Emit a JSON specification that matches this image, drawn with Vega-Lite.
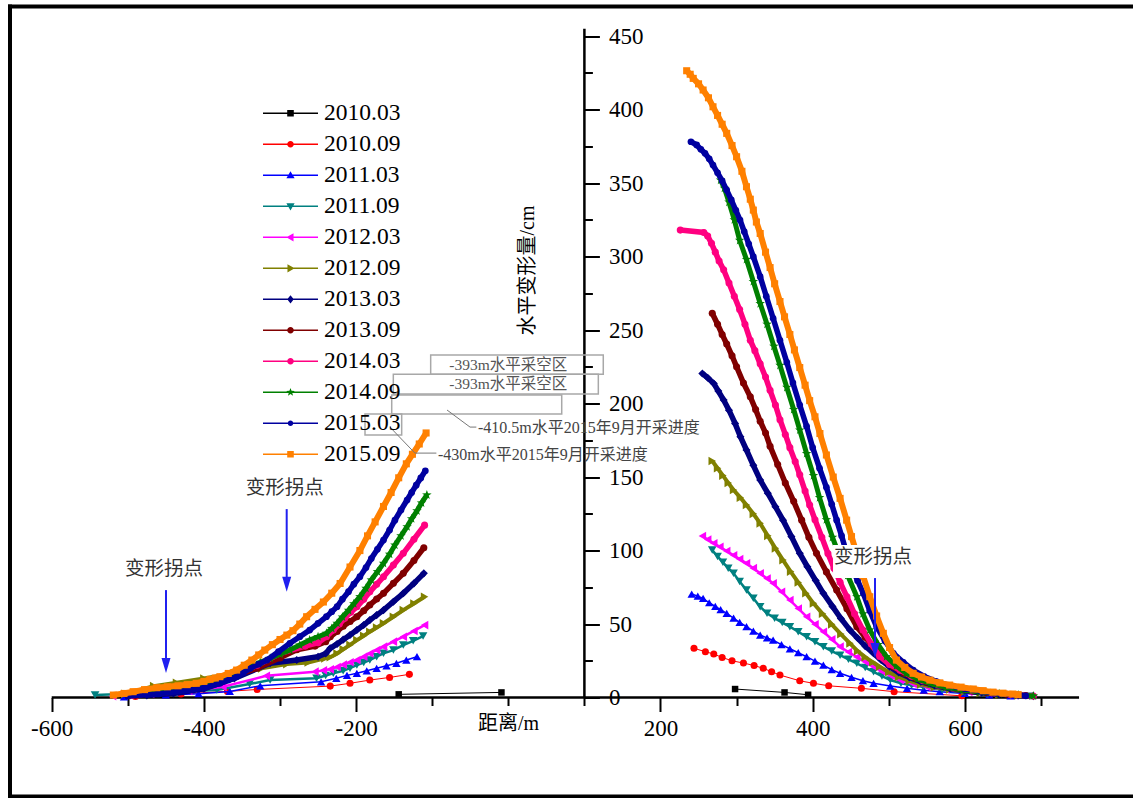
{
"$schema": "https://vega.github.io/schema/vega-lite/v6.json",
"width": 1123, "height": 790,
"autosize": {"type": "none"},
"padding": {"left": 10, "top": 6.5, "right": 0, "bottom": 1.5},
"background": "white",
"config": {"view": {"stroke": null}, "font": "Liberation Serif, Noto Sans CJK SC", "text": {"font": "Liberation Serif, Noto Sans CJK SC"}},
"datasets": {
"frame": [{"x":-654.8,"x2":-654.8,"y":-67.3,"y2":470.1},{"x":-654.8,"x2":825,"y":470.1,"y2":470.1},{"x":-654.8,"x2":825,"y":-67.3,"y2":-67.3}],
"axl": [{"x":-600,"x2":750,"y":0,"y2":0},{"x":100,"x2":100,"y":0,"y2":455}],
"boxes": [{"x":-102,"x2":124.8,"y":233,"y2":219.9},{"x":-151.1,"x2":118.3,"y":219.9,"y2":206.5},{"x":-153.2,"x2":70.2,"y":205.8,"y2":192.9},{"x":-188.3,"x2":-140.1,"y":192.9,"y2":178.6}],
"wbox": [{"x":426.7,"x2":534.4,"y":103.7,"y2":81.3}],
"lead": [{"g":"C","x":-80.5,"y":195.6},{"g":"C","x":-50.3,"y":184},{"g":"C","x":-42,"y":184},{"g":"D","x":-155.5,"y":184},{"g":"D","x":-122.7,"y":166.3},{"g":"D","x":-94.5,"y":166.3}],
"tc": [{"x":0,"y":226.2,"t":"-393m水平采空区"},{"x":0,"y":213.3,"t":"-393m水平采空区"}],
"tl": [{"x":-39.8,"y":183.2,"t":"-410.5m水平2015年9月开采进度"},{"x":-92.4,"y":165,"t":"-430m水平2015年9月开采进度"}],
"tk": [{"x":-452.4,"y":87.4,"t":"变形拐点"},{"x":-293.8,"y":142.5,"t":"变形拐点"},{"x":479.2,"y":95.8,"t":"变形拐点"}],
"arr": [{"x":-449.8,"y":73.1,"y2":25},{"x":-291.2,"y":128.2,"y2":80},{"x":481.9,"y":81.3,"y2":35}],
"ah": [{"x":-449.8,"y":21.8},{"x":-291.2,"y":77},{"x":481.9,"y":32}],
"pts": [
{"s":"2010.03","p":"L","x":-144,"y":2.2},{"s":"2010.03","p":"L","x":-9,"y":3.5},{"s":"2010.03","p":"R","x":298,"y":5.8},{"s":"2010.03","p":"R","x":363,"y":3.5},{"s":"2010.03","p":"R","x":394,"y":1.9},
{"s":"2010.09","p":"L","x":-490,"y":0.8},{"s":"2010.09","p":"L","x":-430,"y":2.5},{"s":"2010.09","p":"L","x":-369,"y":4.2},{"s":"2010.09","p":"L","x":-330,"y":5.5},{"s":"2010.09","p":"L","x":-234,"y":7.8},{"s":"2010.09","p":"L","x":-208,"y":9.7},{"s":"2010.09","p":"L","x":-182,"y":11.9},{"s":"2010.09","p":"L","x":-156,"y":13.7},{"s":"2010.09","p":"L","x":-130,"y":15.8},
{"s":"2010.09","p":"R","x":244,"y":33.5},{"s":"2010.09","p":"R","x":259,"y":31.2},{"s":"2010.09","p":"R","x":270,"y":29.6},{"s":"2010.09","p":"R","x":281,"y":27.3},{"s":"2010.09","p":"R","x":294,"y":25},{"s":"2010.09","p":"R","x":309,"y":23.5},{"s":"2010.09","p":"R","x":323,"y":21.8},{"s":"2010.09","p":"R","x":335,"y":19.9},{"s":"2010.09","p":"R","x":346,"y":17.6},{"s":"2010.09","p":"R","x":357,"y":15.3},{"s":"2010.09","p":"R","x":383,"y":11.4},{"s":"2010.09","p":"R","x":401,"y":9.7},{"s":"2010.09","p":"R","x":421,"y":8},{"s":"2010.09","p":"R","x":464,"y":6.3},{"s":"2010.09","p":"R","x":507,"y":4},{"s":"2010.09","p":"R","x":596,"y":1.2},
{"s":"2011.03","p":"L","x":-505,"y":0.5},{"s":"2011.03","p":"L","x":-450,"y":1.8},{"s":"2011.03","p":"L","x":-407,"y":2.6},{"s":"2011.03","p":"L","x":-366,"y":4.2},{"s":"2011.03","p":"L","x":-326,"y":8},{"s":"2011.03","p":"L","x":-246,"y":10.7},{"s":"2011.03","p":"L","x":-226,"y":13.1},{"s":"2011.03","p":"L","x":-212,"y":15.1},{"s":"2011.03","p":"L","x":-199,"y":16.5},{"s":"2011.03","p":"L","x":-186,"y":18.2},{"s":"2011.03","p":"L","x":-173,"y":19.9},{"s":"2011.03","p":"L","x":-160,"y":21.6},{"s":"2011.03","p":"L","x":-147,"y":23.3},{"s":"2011.03","p":"L","x":-134,"y":25.5},{"s":"2011.03","p":"L","x":-120,"y":27.8},
{"s":"2011.03","p":"R","x":241,"y":70.4},{"s":"2011.03","p":"R","x":249,"y":69},{"s":"2011.03","p":"R","x":256,"y":67.5},{"s":"2011.03","p":"R","x":264,"y":64.5},{"s":"2011.03","p":"R","x":272,"y":62},{"s":"2011.03","p":"R","x":279,"y":59.8},{"s":"2011.03","p":"R","x":287,"y":57.3},{"s":"2011.03","p":"R","x":296,"y":54},{"s":"2011.03","p":"R","x":304,"y":51.2},{"s":"2011.03","p":"R","x":313,"y":48.2},{"s":"2011.03","p":"R","x":322,"y":45.2},{"s":"2011.03","p":"R","x":331,"y":42.5},{"s":"2011.03","p":"R","x":340,"y":40.6},{"s":"2011.03","p":"R","x":348,"y":39},{"s":"2011.03","p":"R","x":359,"y":36},{"s":"2011.03","p":"R","x":370,"y":33.2},{"s":"2011.03","p":"R","x":381,"y":30.5},{"s":"2011.03","p":"R","x":392,"y":27.8},{"s":"2011.03","p":"R","x":403,"y":24.8},{"s":"2011.03","p":"R","x":414,"y":22},{"s":"2011.03","p":"R","x":425,"y":19},{"s":"2011.03","p":"R","x":436,"y":16.5},{"s":"2011.03","p":"R","x":451,"y":13.8},{"s":"2011.03","p":"R","x":466,"y":11.5},{"s":"2011.03","p":"R","x":480,"y":9.7},{"s":"2011.03","p":"R","x":502,"y":7.8},{"s":"2011.03","p":"R","x":524,"y":6.3},{"s":"2011.03","p":"R","x":546,"y":5},{"s":"2011.03","p":"R","x":567,"y":4},{"s":"2011.03","p":"R","x":600,"y":2.8},{"s":"2011.03","p":"R","x":632,"y":1.8},{"s":"2011.03","p":"R","x":660,"y":1.2},
{"s":"2011.09","p":"L","x":-543,"y":1.7},{"s":"2011.09","p":"L","x":-480,"y":3},{"s":"2011.09","p":"L","x":-430,"y":4.2},{"s":"2011.09","p":"L","x":-383,"y":5.1},{"s":"2011.09","p":"L","x":-340,"y":9.2},{"s":"2011.09","p":"L","x":-313,"y":12},{"s":"2011.09","p":"L","x":-252,"y":13.1},{"s":"2011.09","p":"L","x":-240,"y":15},{"s":"2011.09","p":"L","x":-230,"y":16.5},{"s":"2011.09","p":"L","x":-217,"y":18.2},{"s":"2011.09","p":"L","x":-208,"y":20},{"s":"2011.09","p":"L","x":-199,"y":22.1},{"s":"2011.09","p":"L","x":-190,"y":23.8},{"s":"2011.09","p":"L","x":-182,"y":25.5},{"s":"2011.09","p":"L","x":-173,"y":27.8},{"s":"2011.09","p":"L","x":-164,"y":30.1},{"s":"2011.09","p":"L","x":-151,"y":32.3},{"s":"2011.09","p":"L","x":-138,"y":35.7},{"s":"2011.09","p":"L","x":-125,"y":38.6},{"s":"2011.09","p":"L","x":-112,"y":41.8},
{"s":"2011.09","p":"R","x":268,"y":100.3},{"s":"2011.09","p":"R","x":275,"y":96},{"s":"2011.09","p":"R","x":282,"y":92},{"s":"2011.09","p":"R","x":289,"y":88},{"s":"2011.09","p":"R","x":296,"y":84.5},{"s":"2011.09","p":"R","x":304,"y":79},{"s":"2011.09","p":"R","x":313,"y":73.1},{"s":"2011.09","p":"R","x":322,"y":67.5},{"s":"2011.09","p":"R","x":331,"y":61.8},{"s":"2011.09","p":"R","x":340,"y":57.3},{"s":"2011.09","p":"R","x":350,"y":54},{"s":"2011.09","p":"R","x":360,"y":51},{"s":"2011.09","p":"R","x":370,"y":48.2},{"s":"2011.09","p":"R","x":381,"y":44.8},{"s":"2011.09","p":"R","x":392,"y":41.3},{"s":"2011.09","p":"R","x":403,"y":38},{"s":"2011.09","p":"R","x":414,"y":34.6},{"s":"2011.09","p":"R","x":425,"y":31.6},{"s":"2011.09","p":"R","x":436,"y":28.8},{"s":"2011.09","p":"R","x":447,"y":26},{"s":"2011.09","p":"R","x":458,"y":23.3},{"s":"2011.09","p":"R","x":469,"y":20.4},{"s":"2011.09","p":"R","x":480,"y":17.5},{"s":"2011.09","p":"R","x":491,"y":14.6},{"s":"2011.09","p":"R","x":502,"y":11.9},{"s":"2011.09","p":"R","x":516,"y":9.8},{"s":"2011.09","p":"R","x":530,"y":8.4},{"s":"2011.09","p":"R","x":545,"y":7.3},{"s":"2011.09","p":"R","x":570,"y":5.3},{"s":"2011.09","p":"R","x":600,"y":3.5},{"s":"2011.09","p":"R","x":630,"y":2.3},{"s":"2011.09","p":"R","x":660,"y":1.5},{"s":"2011.09","p":"R","x":685,"y":0.9},
{"s":"2012.03","p":"L","x":-520,"y":1},{"s":"2012.03","p":"L","x":-470,"y":2.5},{"s":"2012.03","p":"L","x":-420,"y":4.5},{"s":"2012.03","p":"L","x":-375,"y":7.3},{"s":"2012.03","p":"L","x":-318,"y":14.8},{"s":"2012.03","p":"L","x":-254,"y":17.6},{"s":"2012.03","p":"L","x":-243,"y":18.5},{"s":"2012.03","p":"L","x":-234,"y":19.2},{"s":"2012.03","p":"L","x":-225,"y":20.8},{"s":"2012.03","p":"L","x":-217,"y":22.4},{"s":"2012.03","p":"L","x":-208,"y":24},{"s":"2012.03","p":"L","x":-199,"y":25.5},{"s":"2012.03","p":"L","x":-190,"y":27.8},{"s":"2012.03","p":"L","x":-182,"y":30},{"s":"2012.03","p":"L","x":-173,"y":32.3},{"s":"2012.03","p":"L","x":-164,"y":34.6},{"s":"2012.03","p":"L","x":-151,"y":38},{"s":"2012.03","p":"L","x":-138,"y":41.4},{"s":"2012.03","p":"L","x":-124,"y":45.3},{"s":"2012.03","p":"L","x":-110,"y":49.3},
{"s":"2012.03","p":"R","x":255,"y":109.9},{"s":"2012.03","p":"R","x":262,"y":107.5},{"s":"2012.03","p":"R","x":270,"y":105},{"s":"2012.03","p":"R","x":278,"y":102.6},{"s":"2012.03","p":"R","x":287,"y":99.7},{"s":"2012.03","p":"R","x":296,"y":96.8},{"s":"2012.03","p":"R","x":304,"y":94.2},{"s":"2012.03","p":"R","x":313,"y":91.3},{"s":"2012.03","p":"R","x":322,"y":88},{"s":"2012.03","p":"R","x":331,"y":84.5},{"s":"2012.03","p":"R","x":340,"y":81},{"s":"2012.03","p":"R","x":348,"y":77.7},{"s":"2012.03","p":"R","x":359,"y":72},{"s":"2012.03","p":"R","x":370,"y":66.3},{"s":"2012.03","p":"R","x":381,"y":60.6},{"s":"2012.03","p":"R","x":392,"y":55},{"s":"2012.03","p":"R","x":403,"y":49.9},{"s":"2012.03","p":"R","x":414,"y":44.8},{"s":"2012.03","p":"R","x":425,"y":39.7},{"s":"2012.03","p":"R","x":436,"y":34.6},{"s":"2012.03","p":"R","x":447,"y":31},{"s":"2012.03","p":"R","x":458,"y":27.6},{"s":"2012.03","p":"R","x":469,"y":24.3},{"s":"2012.03","p":"R","x":480,"y":21},{"s":"2012.03","p":"R","x":491,"y":17.8},{"s":"2012.03","p":"R","x":503,"y":14.8},{"s":"2012.03","p":"R","x":515,"y":11.9},{"s":"2012.03","p":"R","x":532,"y":9.3},{"s":"2012.03","p":"R","x":550,"y":7.3},{"s":"2012.03","p":"R","x":575,"y":5.5},{"s":"2012.03","p":"R","x":605,"y":3.8},{"s":"2012.03","p":"R","x":637,"y":2.5},{"s":"2012.03","p":"R","x":665,"y":1.6},
{"s":"2012.09","p":"L","x":-504,"y":2.5},{"s":"2012.09","p":"L","x":-466,"y":7.8},{"s":"2012.09","p":"L","x":-436,"y":10.1},{"s":"2012.09","p":"L","x":-400,"y":13},{"s":"2012.09","p":"L","x":-360,"y":16.5},{"s":"2012.09","p":"L","x":-324,"y":19.9},{"s":"2012.09","p":"L","x":-291,"y":22.8},{"s":"2012.09","p":"L","x":-263,"y":23.9},{"s":"2012.09","p":"L","x":-241,"y":26.7},{"s":"2012.09","p":"L","x":-234,"y":27.5},{"s":"2012.09","p":"L","x":-225,"y":30},{"s":"2012.09","p":"L","x":-217,"y":32.8},{"s":"2012.09","p":"L","x":-208,"y":35.8},{"s":"2012.09","p":"L","x":-199,"y":39.1},{"s":"2012.09","p":"L","x":-190,"y":42},{"s":"2012.09","p":"L","x":-182,"y":44.8},{"s":"2012.09","p":"L","x":-173,"y":47.6},{"s":"2012.09","p":"L","x":-164,"y":50.5},{"s":"2012.09","p":"L","x":-151,"y":55},{"s":"2012.09","p":"L","x":-138,"y":59.5},{"s":"2012.09","p":"L","x":-124,"y":64},{"s":"2012.09","p":"L","x":-110,"y":68.6},
{"s":"2012.09","p":"R","x":268,"y":160.9},{"s":"2012.09","p":"R","x":275,"y":156},{"s":"2012.09","p":"R","x":282,"y":151},{"s":"2012.09","p":"R","x":289,"y":146},{"s":"2012.09","p":"R","x":296,"y":141.2},{"s":"2012.09","p":"R","x":305,"y":136},{"s":"2012.09","p":"R","x":313,"y":131},{"s":"2012.09","p":"R","x":322,"y":125},{"s":"2012.09","p":"R","x":331,"y":118.5},{"s":"2012.09","p":"R","x":341,"y":110},{"s":"2012.09","p":"R","x":351,"y":101.5},{"s":"2012.09","p":"R","x":361,"y":93.5},{"s":"2012.09","p":"R","x":371,"y":85.7},{"s":"2012.09","p":"R","x":381,"y":78.3},{"s":"2012.09","p":"R","x":391,"y":71},{"s":"2012.09","p":"R","x":401,"y":64.1},{"s":"2012.09","p":"R","x":413,"y":57},{"s":"2012.09","p":"R","x":425,"y":49.8},{"s":"2012.09","p":"R","x":437,"y":43.2},{"s":"2012.09","p":"R","x":449,"y":36.9},{"s":"2012.09","p":"R","x":459,"y":31.6},{"s":"2012.09","p":"R","x":469,"y":27.5},{"s":"2012.09","p":"R","x":479,"y":24},{"s":"2012.09","p":"R","x":488,"y":21},{"s":"2012.09","p":"R","x":500,"y":17.3},{"s":"2012.09","p":"R","x":513,"y":14},{"s":"2012.09","p":"R","x":527,"y":11.3},{"s":"2012.09","p":"R","x":542,"y":9},{"s":"2012.09","p":"R","x":560,"y":7},{"s":"2012.09","p":"R","x":580,"y":5.5},{"s":"2012.09","p":"R","x":600,"y":4.2},{"s":"2012.09","p":"R","x":620,"y":3.2},{"s":"2012.09","p":"R","x":645,"y":2.2},{"s":"2012.09","p":"R","x":670,"y":1.5},
{"s":"2013.03","p":"L","x":-475,"y":1.5},{"s":"2013.03","p":"L","x":-440,"y":2.8},{"s":"2013.03","p":"L","x":-400,"y":6},{"s":"2013.03","p":"L","x":-360,"y":13},{"s":"2013.03","p":"L","x":-313,"y":23.3},{"s":"2013.03","p":"L","x":-278,"y":25.5},{"s":"2013.03","p":"L","x":-250,"y":27.8},{"s":"2013.03","p":"L","x":-240,"y":30},{"s":"2013.03","p":"L","x":-234,"y":33.5},{"s":"2013.03","p":"L","x":-225,"y":36.5},{"s":"2013.03","p":"L","x":-217,"y":39.4},{"s":"2013.03","p":"L","x":-208,"y":42.6},{"s":"2013.03","p":"L","x":-199,"y":45.9},{"s":"2013.03","p":"L","x":-190,"y":49.3},{"s":"2013.03","p":"L","x":-182,"y":52.7},{"s":"2013.03","p":"L","x":-173,"y":56.1},{"s":"2013.03","p":"L","x":-164,"y":59.5},{"s":"2013.03","p":"L","x":-151,"y":65.2},{"s":"2013.03","p":"L","x":-138,"y":70.9},{"s":"2013.03","p":"L","x":-124,"y":77.7},{"s":"2013.03","p":"L","x":-111,"y":84.5},
{"s":"2013.03","p":"R","x":255,"y":220.5},{"s":"2013.03","p":"R","x":262,"y":217.5},{"s":"2013.03","p":"R","x":270,"y":213.7},{"s":"2013.03","p":"R","x":276,"y":208.5},{"s":"2013.03","p":"R","x":283,"y":202.4},{"s":"2013.03","p":"R","x":290,"y":195.5},{"s":"2013.03","p":"R","x":298,"y":186.5},{"s":"2013.03","p":"R","x":305,"y":177.5},{"s":"2013.03","p":"R","x":313,"y":168.4},{"s":"2013.03","p":"R","x":322,"y":158},{"s":"2013.03","p":"R","x":331,"y":148},{"s":"2013.03","p":"R","x":341,"y":139},{"s":"2013.03","p":"R","x":351,"y":129.8},{"s":"2013.03","p":"R","x":361,"y":120.7},{"s":"2013.03","p":"R","x":372,"y":109.5},{"s":"2013.03","p":"R","x":383,"y":98.1},{"s":"2013.03","p":"R","x":393,"y":89},{"s":"2013.03","p":"R","x":404,"y":79.6},{"s":"2013.03","p":"R","x":414,"y":70.9},{"s":"2013.03","p":"R","x":426,"y":62},{"s":"2013.03","p":"R","x":437,"y":53.8},{"s":"2013.03","p":"R","x":449,"y":45.9},{"s":"2013.03","p":"R","x":459,"y":40.5},{"s":"2013.03","p":"R","x":469,"y":35},{"s":"2013.03","p":"R","x":480,"y":30.1},{"s":"2013.03","p":"R","x":490,"y":25.5},{"s":"2013.03","p":"R","x":501,"y":21},{"s":"2013.03","p":"R","x":513,"y":17},{"s":"2013.03","p":"R","x":527,"y":13.6},{"s":"2013.03","p":"R","x":542,"y":10.8},{"s":"2013.03","p":"R","x":560,"y":8.2},{"s":"2013.03","p":"R","x":580,"y":6.2},{"s":"2013.03","p":"R","x":600,"y":4.6},{"s":"2013.03","p":"R","x":622,"y":3.3},{"s":"2013.03","p":"R","x":645,"y":2.3},{"s":"2013.03","p":"R","x":670,"y":1.5},{"s":"2013.03","p":"R","x":690,"y":1},
{"s":"2013.09","p":"L","x":-490,"y":1.5},{"s":"2013.09","p":"L","x":-450,"y":3.5},{"s":"2013.09","p":"L","x":-410,"y":7},{"s":"2013.09","p":"L","x":-370,"y":13},{"s":"2013.09","p":"L","x":-330,"y":20},{"s":"2013.09","p":"L","x":-300,"y":27},{"s":"2013.09","p":"L","x":-278,"y":32.5},{"s":"2013.09","p":"L","x":-254,"y":35},{"s":"2013.09","p":"L","x":-240,"y":38},{"s":"2013.09","p":"L","x":-234,"y":41.4},{"s":"2013.09","p":"L","x":-225,"y":45},{"s":"2013.09","p":"L","x":-217,"y":48.5},{"s":"2013.09","p":"L","x":-208,"y":51.7},{"s":"2013.09","p":"L","x":-199,"y":55},{"s":"2013.09","p":"L","x":-190,"y":59},{"s":"2013.09","p":"L","x":-182,"y":63},{"s":"2013.09","p":"L","x":-173,"y":67},{"s":"2013.09","p":"L","x":-164,"y":70.9},{"s":"2013.09","p":"L","x":-151,"y":77.7},{"s":"2013.09","p":"L","x":-138,"y":84.5},{"s":"2013.09","p":"L","x":-124,"y":93.2},{"s":"2013.09","p":"L","x":-111,"y":101.9},
{"s":"2013.09","p":"R","x":268,"y":261.4},{"s":"2013.09","p":"R","x":275,"y":254},{"s":"2013.09","p":"R","x":281,"y":247},{"s":"2013.09","p":"R","x":287,"y":240.5},{"s":"2013.09","p":"R","x":294,"y":232.5},{"s":"2013.09","p":"R","x":300,"y":225},{"s":"2013.09","p":"R","x":309,"y":214},{"s":"2013.09","p":"R","x":318,"y":204.6},{"s":"2013.09","p":"R","x":325,"y":196},{"s":"2013.09","p":"R","x":331,"y":188},{"s":"2013.09","p":"R","x":338,"y":180},{"s":"2013.09","p":"R","x":344,"y":171},{"s":"2013.09","p":"R","x":354,"y":158.5},{"s":"2013.09","p":"R","x":364,"y":146},{"s":"2013.09","p":"R","x":375,"y":133.5},{"s":"2013.09","p":"R","x":385.5,"y":120.7},{"s":"2013.09","p":"R","x":395,"y":109},{"s":"2013.09","p":"R","x":405,"y":98.1},{"s":"2013.09","p":"R","x":418,"y":85.5},{"s":"2013.09","p":"R","x":431.5,"y":73.1},{"s":"2013.09","p":"R","x":445,"y":60.5},{"s":"2013.09","p":"R","x":458,"y":48.2},{"s":"2013.09","p":"R","x":469,"y":41},{"s":"2013.09","p":"R","x":479.6,"y":34.6},{"s":"2013.09","p":"R","x":492,"y":27.5},{"s":"2013.09","p":"R","x":506,"y":21},{"s":"2013.09","p":"R","x":520,"y":16.5},{"s":"2013.09","p":"R","x":535,"y":13},{"s":"2013.09","p":"R","x":550,"y":10.5},{"s":"2013.09","p":"R","x":570,"y":8},{"s":"2013.09","p":"R","x":590,"y":6},{"s":"2013.09","p":"R","x":610,"y":4.5},{"s":"2013.09","p":"R","x":630,"y":3.3},{"s":"2013.09","p":"R","x":655,"y":2.2},{"s":"2013.09","p":"R","x":680,"y":1.4},
{"s":"2014.03","p":"L","x":-495,"y":1.5},{"s":"2014.03","p":"L","x":-455,"y":3.5},{"s":"2014.03","p":"L","x":-410,"y":7.5},{"s":"2014.03","p":"L","x":-370,"y":13},{"s":"2014.03","p":"L","x":-330,"y":22},{"s":"2014.03","p":"L","x":-300,"y":30},{"s":"2014.03","p":"L","x":-267,"y":35},{"s":"2014.03","p":"L","x":-250,"y":37.3},{"s":"2014.03","p":"L","x":-239,"y":41.4},{"s":"2014.03","p":"L","x":-230,"y":45.9},{"s":"2014.03","p":"L","x":-222,"y":50},{"s":"2014.03","p":"L","x":-215,"y":54},{"s":"2014.03","p":"L","x":-207,"y":58},{"s":"2014.03","p":"L","x":-199,"y":61.8},{"s":"2014.03","p":"L","x":-190,"y":66.8},{"s":"2014.03","p":"L","x":-182,"y":71.9},{"s":"2014.03","p":"L","x":-173,"y":77},{"s":"2014.03","p":"L","x":-164,"y":82.2},{"s":"2014.03","p":"L","x":-151,"y":90.1},{"s":"2014.03","p":"L","x":-138,"y":98.1},{"s":"2014.03","p":"L","x":-124,"y":107.7},{"s":"2014.03","p":"L","x":-110,"y":117.3},
{"s":"2014.03","p":"R","x":226,"y":318},{"s":"2014.03","p":"R","x":257,"y":316.4},{"s":"2014.03","p":"R","x":262,"y":314},{"s":"2014.03","p":"R","x":267,"y":309},{"s":"2014.03","p":"R","x":272,"y":303},{"s":"2014.03","p":"R","x":277,"y":297},{"s":"2014.03","p":"R","x":283,"y":291},{"s":"2014.03","p":"R","x":290,"y":282},{"s":"2014.03","p":"R","x":297,"y":273},{"s":"2014.03","p":"R","x":304,"y":264},{"s":"2014.03","p":"R","x":311,"y":254},{"s":"2014.03","p":"R","x":318,"y":243},{"s":"2014.03","p":"R","x":324,"y":236},{"s":"2014.03","p":"R","x":331,"y":227},{"s":"2014.03","p":"R","x":338,"y":218},{"s":"2014.03","p":"R","x":344,"y":209},{"s":"2014.03","p":"R","x":351,"y":199},{"s":"2014.03","p":"R","x":357,"y":189},{"s":"2014.03","p":"R","x":364,"y":179},{"s":"2014.03","p":"R","x":370,"y":170},{"s":"2014.03","p":"R","x":377,"y":160.5},{"s":"2014.03","p":"R","x":383,"y":151.5},{"s":"2014.03","p":"R","x":390,"y":140.5},{"s":"2014.03","p":"R","x":396,"y":131},{"s":"2014.03","p":"R","x":403,"y":121},{"s":"2014.03","p":"R","x":412,"y":109},{"s":"2014.03","p":"R","x":420,"y":98},{"s":"2014.03","p":"R","x":428,"y":88},{"s":"2014.03","p":"R","x":436,"y":78.5},{"s":"2014.03","p":"R","x":445,"y":68.5},{"s":"2014.03","p":"R","x":455,"y":57},{"s":"2014.03","p":"R","x":466,"y":46},{"s":"2014.03","p":"R","x":477,"y":36.5},{"s":"2014.03","p":"R","x":488,"y":28},{"s":"2014.03","p":"R","x":501,"y":22.5},{"s":"2014.03","p":"R","x":515,"y":18.5},{"s":"2014.03","p":"R","x":530,"y":14.5},{"s":"2014.03","p":"R","x":545,"y":11.5},{"s":"2014.03","p":"R","x":565,"y":8.5},{"s":"2014.03","p":"R","x":585,"y":6.5},{"s":"2014.03","p":"R","x":610,"y":4.6},{"s":"2014.03","p":"R","x":635,"y":3.2},{"s":"2014.03","p":"R","x":660,"y":2},{"s":"2014.03","p":"R","x":690,"y":1},
{"s":"2014.09","p":"L","x":-500,"y":1.5},{"s":"2014.09","p":"L","x":-470,"y":3},{"s":"2014.09","p":"L","x":-440,"y":5},{"s":"2014.09","p":"L","x":-410,"y":8},{"s":"2014.09","p":"L","x":-380,"y":12},{"s":"2014.09","p":"L","x":-360,"y":16},{"s":"2014.09","p":"L","x":-340,"y":21},{"s":"2014.09","p":"L","x":-326,"y":24},{"s":"2014.09","p":"L","x":-313,"y":26.7},{"s":"2014.09","p":"L","x":-300,"y":29.5},{"s":"2014.09","p":"L","x":-287,"y":32.3},{"s":"2014.09","p":"L","x":-274,"y":35.7},{"s":"2014.09","p":"L","x":-261,"y":39.1},{"s":"2014.09","p":"L","x":-250,"y":41.4},{"s":"2014.09","p":"L","x":-239,"y":43.7},{"s":"2014.09","p":"L","x":-232,"y":47},{"s":"2014.09","p":"L","x":-225,"y":50.5},{"s":"2014.09","p":"L","x":-218,"y":54.8},{"s":"2014.09","p":"L","x":-210,"y":59.3},{"s":"2014.09","p":"L","x":-203,"y":63.8},{"s":"2014.09","p":"L","x":-195,"y":68.6},{"s":"2014.09","p":"L","x":-187,"y":74.3},{"s":"2014.09","p":"L","x":-180,"y":80},{"s":"2014.09","p":"L","x":-172,"y":85.6},{"s":"2014.09","p":"L","x":-164,"y":91.3},{"s":"2014.09","p":"L","x":-156,"y":97.5},{"s":"2014.09","p":"L","x":-149,"y":103.7},{"s":"2014.09","p":"L","x":-141,"y":110},{"s":"2014.09","p":"L","x":-133,"y":116.2},{"s":"2014.09","p":"L","x":-127,"y":121.6},{"s":"2014.09","p":"L","x":-120,"y":127},{"s":"2014.09","p":"L","x":-114,"y":132.4},{"s":"2014.09","p":"L","x":-107,"y":137.8},
{"s":"2014.09","p":"R","x":279,"y":352},{"s":"2014.09","p":"R","x":284,"y":346.5},{"s":"2014.09","p":"R","x":290,"y":337},{"s":"2014.09","p":"R","x":297,"y":325},{"s":"2014.09","p":"R","x":304,"y":311},{"s":"2014.09","p":"R","x":313,"y":298},{"s":"2014.09","p":"R","x":322,"y":283},{"s":"2014.09","p":"R","x":331,"y":268},{"s":"2014.09","p":"R","x":340,"y":254},{"s":"2014.09","p":"R","x":349,"y":239},{"s":"2014.09","p":"R","x":357,"y":226},{"s":"2014.09","p":"R","x":366,"y":211},{"s":"2014.09","p":"R","x":375,"y":196},{"s":"2014.09","p":"R","x":383,"y":182},{"s":"2014.09","p":"R","x":392,"y":166},{"s":"2014.09","p":"R","x":401,"y":151},{"s":"2014.09","p":"R","x":409,"y":136},{"s":"2014.09","p":"R","x":418,"y":121},{"s":"2014.09","p":"R","x":426,"y":109},{"s":"2014.09","p":"R","x":434,"y":98},{"s":"2014.09","p":"R","x":446,"y":83},{"s":"2014.09","p":"R","x":458,"y":68.6},{"s":"2014.09","p":"R","x":466,"y":57},{"s":"2014.09","p":"R","x":475,"y":46},{"s":"2014.09","p":"R","x":486,"y":36},{"s":"2014.09","p":"R","x":497,"y":27.8},{"s":"2014.09","p":"R","x":510,"y":21.5},{"s":"2014.09","p":"R","x":523,"y":16.5},{"s":"2014.09","p":"R","x":538,"y":12.5},{"s":"2014.09","p":"R","x":555,"y":9.5},{"s":"2014.09","p":"R","x":575,"y":7},{"s":"2014.09","p":"R","x":597,"y":5.2},{"s":"2014.09","p":"R","x":620,"y":3.8},{"s":"2014.09","p":"R","x":645,"y":2.6},{"s":"2014.09","p":"R","x":670,"y":1.7},{"s":"2014.09","p":"R","x":690,"y":1.1},
{"s":"2015.03","p":"L","x":-500,"y":1},{"s":"2015.03","p":"L","x":-460,"y":2.5},{"s":"2015.03","p":"L","x":-420,"y":5},{"s":"2015.03","p":"L","x":-400,"y":6.5},{"s":"2015.03","p":"L","x":-379,"y":9.7},{"s":"2015.03","p":"L","x":-368,"y":12},{"s":"2015.03","p":"L","x":-357,"y":14.1},{"s":"2015.03","p":"L","x":-348,"y":17},{"s":"2015.03","p":"L","x":-339,"y":19.9},{"s":"2015.03","p":"L","x":-328,"y":22.7},{"s":"2015.03","p":"L","x":-317,"y":25.5},{"s":"2015.03","p":"L","x":-302,"y":31.2},{"s":"2015.03","p":"L","x":-287,"y":36.9},{"s":"2015.03","p":"L","x":-274,"y":41.4},{"s":"2015.03","p":"L","x":-261,"y":45.9},{"s":"2015.03","p":"L","x":-250,"y":50.5},{"s":"2015.03","p":"L","x":-239,"y":55},{"s":"2015.03","p":"L","x":-232,"y":58.4},{"s":"2015.03","p":"L","x":-225,"y":61.8},{"s":"2015.03","p":"L","x":-218,"y":66.9},{"s":"2015.03","p":"L","x":-210,"y":72},{"s":"2015.03","p":"L","x":-203,"y":77.1},{"s":"2015.03","p":"L","x":-195,"y":82.2},{"s":"2015.03","p":"L","x":-187,"y":88.4},{"s":"2015.03","p":"L","x":-180,"y":94.6},{"s":"2015.03","p":"L","x":-172,"y":100.9},{"s":"2015.03","p":"L","x":-164,"y":107.1},{"s":"2015.03","p":"L","x":-156,"y":114},{"s":"2015.03","p":"L","x":-149,"y":120.7},{"s":"2015.03","p":"L","x":-141,"y":127.6},{"s":"2015.03","p":"L","x":-133,"y":134.4},{"s":"2015.03","p":"L","x":-127,"y":139.5},{"s":"2015.03","p":"L","x":-121,"y":144.5},{"s":"2015.03","p":"L","x":-115,"y":149.4},{"s":"2015.03","p":"L","x":-109,"y":154.3},
{"s":"2015.03","p":"R","x":240,"y":378.1},{"s":"2015.03","p":"R","x":247.5,"y":375.9},{"s":"2015.03","p":"R","x":253,"y":373},{"s":"2015.03","p":"R","x":258.5,"y":370.2},{"s":"2015.03","p":"R","x":264,"y":366.5},{"s":"2015.03","p":"R","x":269,"y":362.2},{"s":"2015.03","p":"R","x":275,"y":357},{"s":"2015.03","p":"R","x":281,"y":351.5},{"s":"2015.03","p":"R","x":287,"y":345.2},{"s":"2015.03","p":"R","x":293,"y":338.5},{"s":"2015.03","p":"R","x":299,"y":331.5},{"s":"2015.03","p":"R","x":304.5,"y":324.8},{"s":"2015.03","p":"R","x":310,"y":317},{"s":"2015.03","p":"R","x":316,"y":308.5},{"s":"2015.03","p":"R","x":322,"y":299.9},{"s":"2015.03","p":"R","x":331,"y":286.3},{"s":"2015.03","p":"R","x":339,"y":273},{"s":"2015.03","p":"R","x":348,"y":258},{"s":"2015.03","p":"R","x":357,"y":243},{"s":"2015.03","p":"R","x":366,"y":228},{"s":"2015.03","p":"R","x":374,"y":214},{"s":"2015.03","p":"R","x":383,"y":199},{"s":"2015.03","p":"R","x":392,"y":184.5},{"s":"2015.03","p":"R","x":400,"y":170},{"s":"2015.03","p":"R","x":409,"y":156},{"s":"2015.03","p":"R","x":418,"y":143},{"s":"2015.03","p":"R","x":425,"y":131.5},{"s":"2015.03","p":"R","x":431.5,"y":120.7},{"s":"2015.03","p":"R","x":438,"y":110},{"s":"2015.03","p":"R","x":444.6,"y":98.1},{"s":"2015.03","p":"R","x":451,"y":89},{"s":"2015.03","p":"R","x":459,"y":79.5},{"s":"2015.03","p":"R","x":466.5,"y":70.9},{"s":"2015.03","p":"R","x":475,"y":59},{"s":"2015.03","p":"R","x":484,"y":48.2},{"s":"2015.03","p":"R","x":495,"y":38.5},{"s":"2015.03","p":"R","x":506,"y":30.1},{"s":"2015.03","p":"R","x":519,"y":24},{"s":"2015.03","p":"R","x":532,"y":18.7},{"s":"2015.03","p":"R","x":546,"y":14.5},{"s":"2015.03","p":"R","x":562,"y":11},{"s":"2015.03","p":"R","x":580,"y":8.2},{"s":"2015.03","p":"R","x":600,"y":6},{"s":"2015.03","p":"R","x":622,"y":4.2},{"s":"2015.03","p":"R","x":645,"y":2.8},{"s":"2015.03","p":"R","x":665,"y":1.8},{"s":"2015.03","p":"R","x":680,"y":1.2},
{"s":"2015.09","p":"L","x":-519,"y":1.7},{"s":"2015.09","p":"L","x":-505,"y":2.8},{"s":"2015.09","p":"L","x":-493,"y":4},{"s":"2015.09","p":"L","x":-478,"y":5.4},{"s":"2015.09","p":"L","x":-462,"y":6.7},{"s":"2015.09","p":"L","x":-448,"y":7.3},{"s":"2015.09","p":"L","x":-434,"y":8},{"s":"2015.09","p":"L","x":-422,"y":8.8},{"s":"2015.09","p":"L","x":-410,"y":9.7},{"s":"2015.09","p":"L","x":-400,"y":11},{"s":"2015.09","p":"L","x":-392,"y":12.4},{"s":"2015.09","p":"L","x":-385,"y":13.3},{"s":"2015.09","p":"L","x":-379,"y":14.2},{"s":"2015.09","p":"L","x":-368,"y":16.4},{"s":"2015.09","p":"L","x":-357,"y":18.7},{"s":"2015.09","p":"L","x":-347,"y":22},{"s":"2015.09","p":"L","x":-337,"y":25.5},{"s":"2015.09","p":"L","x":-328,"y":29},{"s":"2015.09","p":"L","x":-320,"y":32.3},{"s":"2015.09","p":"L","x":-310,"y":36},{"s":"2015.09","p":"L","x":-300,"y":39.5},{"s":"2015.09","p":"L","x":-291,"y":42.5},{"s":"2015.09","p":"L","x":-283,"y":45.5},{"s":"2015.09","p":"L","x":-274,"y":50},{"s":"2015.09","p":"L","x":-265,"y":55},{"s":"2015.09","p":"L","x":-254,"y":60},{"s":"2015.09","p":"L","x":-243,"y":65},{"s":"2015.09","p":"L","x":-232,"y":71},{"s":"2015.09","p":"L","x":-221,"y":77.6},{"s":"2015.09","p":"L","x":-208,"y":88.8},{"s":"2015.09","p":"L","x":-195,"y":100},{"s":"2015.09","p":"L","x":-185,"y":110},{"s":"2015.09","p":"L","x":-175,"y":119.5},{"s":"2015.09","p":"L","x":-164,"y":130},{"s":"2015.09","p":"L","x":-154,"y":139.5},{"s":"2015.09","p":"L","x":-144,"y":149.5},{"s":"2015.09","p":"L","x":-134,"y":159},{"s":"2015.09","p":"L","x":-126,"y":165.5},{"s":"2015.09","p":"L","x":-117,"y":172.5},{"s":"2015.09","p":"L","x":-108,"y":180},
{"s":"2015.09","p":"R","x":234.4,"y":426.4},{"s":"2015.09","p":"R","x":239,"y":424},{"s":"2015.09","p":"R","x":243,"y":421.2},{"s":"2015.09","p":"R","x":250,"y":417.5},{"s":"2015.09","p":"R","x":256,"y":413.3},{"s":"2015.09","p":"R","x":263,"y":408},{"s":"2015.09","p":"R","x":269,"y":401.9},{"s":"2015.09","p":"R","x":275,"y":396},{"s":"2015.09","p":"R","x":281,"y":390},{"s":"2015.09","p":"R","x":287,"y":383.8},{"s":"2015.09","p":"R","x":294,"y":375.5},{"s":"2015.09","p":"R","x":300,"y":367.9},{"s":"2015.09","p":"R","x":307,"y":358},{"s":"2015.09","p":"R","x":313,"y":347.5},{"s":"2015.09","p":"R","x":318,"y":339},{"s":"2015.09","p":"R","x":322,"y":331.6},{"s":"2015.09","p":"R","x":326,"y":323.5},{"s":"2015.09","p":"R","x":331,"y":315.7},{"s":"2015.09","p":"R","x":338,"y":303},{"s":"2015.09","p":"R","x":344,"y":292.5},{"s":"2015.09","p":"R","x":350,"y":281.5},{"s":"2015.09","p":"R","x":357,"y":269.4},{"s":"2015.09","p":"R","x":363,"y":259},{"s":"2015.09","p":"R","x":370,"y":247},{"s":"2015.09","p":"R","x":376,"y":236.5},{"s":"2015.09","p":"R","x":383,"y":224.5},{"s":"2015.09","p":"R","x":390,"y":212.5},{"s":"2015.09","p":"R","x":396,"y":202},{"s":"2015.09","p":"R","x":403,"y":191},{"s":"2015.09","p":"R","x":409.5,"y":179.6},{"s":"2015.09","p":"R","x":418,"y":165},{"s":"2015.09","p":"R","x":427,"y":150},{"s":"2015.09","p":"R","x":436,"y":135.5},{"s":"2015.09","p":"R","x":444.6,"y":120.7},{"s":"2015.09","p":"R","x":451,"y":109.5},{"s":"2015.09","p":"R","x":457.8,"y":98.1},{"s":"2015.09","p":"R","x":466,"y":83},{"s":"2015.09","p":"R","x":475,"y":68.6},{"s":"2015.09","p":"R","x":484,"y":55.5},{"s":"2015.09","p":"R","x":492.8,"y":43.7},{"s":"2015.09","p":"R","x":501,"y":34},{"s":"2015.09","p":"R","x":510,"y":25.5},{"s":"2015.09","p":"R","x":521,"y":20.5},{"s":"2015.09","p":"R","x":532,"y":16.5},{"s":"2015.09","p":"R","x":543,"y":14},{"s":"2015.09","p":"R","x":554,"y":11.9},{"s":"2015.09","p":"R","x":567,"y":10},{"s":"2015.09","p":"R","x":580,"y":8.5},{"s":"2015.09","p":"R","x":595,"y":7.1},{"s":"2015.09","p":"R","x":611,"y":5.8},{"s":"2015.09","p":"R","x":624,"y":4.7},{"s":"2015.09","p":"R","x":637,"y":3.7},{"s":"2015.09","p":"R","x":650,"y":3},{"s":"2015.09","p":"R","x":663,"y":2.4},{"s":"2015.09","p":"R","x":670,"y":2}
]
},
"encoding": {
"x": {"field":"x","type":"quantitative","title":"距离/m",
 "scale":{"domain":[-654.8,820.9],"nice":false,"zero":false},
 "axis":{"orient":"bottom","offset":-99,"domain":false,"grid":false,
  "values":[-600,-500,-400,-300,-200,-100,0,100,200,300,400,500,600,700],
  "labelExpr":"(datum.value % 200 === 0 && datum.value !== 0) ? '' + datum.value : ''",
  "tickSize":{"condition":{"test":"datum.value % 200 === 0 && datum.value !== 0","value":14},"value":8},
  "tickWidth":2,"tickColor":"black","labelFont":"Liberation Serif","labelFontSize":23,"labelColor":"black","labelPadding":6,"labelFlush":false,"labelOverlap":false,
  "titleFont":"Liberation Serif, Noto Sans CJK SC","titleFontSize":20,"titleFontWeight":"normal","titleColor":"black","titleX":498,"titleY":26,"titleAlign":"center","titleBaseline":"middle"}},
"y": {"field":"y","type":"quantitative","title":"水平变形量/cm",
 "scale":{"domain":[-67.3,470.1],"nice":false,"zero":false},
 "axis":{"orient":"right","offset":-548.6,"domain":false,"grid":false,
  "values":[0,25,50,75,100,125,150,175,200,225,250,275,300,325,350,375,400,425,450],
  "labelExpr":"datum.value % 50 === 0 ? '' + datum.value : ''",
  "tickSize":{"condition":{"test":"datum.value % 50 === 0","value":15},"value":8},
  "tickWidth":2,"tickColor":"black","labelFont":"Liberation Serif","labelFontSize":23,"labelColor":"black","labelPadding":9,"labelAlign":"left","labelBaseline":"middle","labelFlush":false,"labelOverlap":false,
  "titleFont":"Liberation Serif, Noto Sans CJK SC","titleFontSize":20,"titleFontWeight":"normal","titleColor":"black","titleAngle":270,"titleX":-57,"titleY":263.5,"titleAlign":"center","titleBaseline":"middle"}}
},
"layer": [
{"data":{"name":"frame"},"mark":{"type":"rule","color":"black","strokeWidth":4,"strokeCap":"square"},"encoding":{"x2":{"field":"x2"},"y2":{"field":"y2"}}},
{"data":{"name":"axl"},"mark":{"type":"rule","color":"black","strokeWidth":2.5},"encoding":{"x2":{"field":"x2"},"y2":{"field":"y2"}}},
{"data":{"name":"pts"},"transform":[{"filter":"datum.s=='2010.03'"}],"layer":[
 {"mark":{"type":"line","color":"#000000","strokeWidth":1},"encoding":{"detail":{"field":"p"}}},
 {"mark":{"type":"point","shape":"square","filled":true,"size":42,"color":"#000000","opacity":1}}]},
{"data":{"name":"pts"},"transform":[{"filter":"datum.s=='2010.09'"}],"layer":[
 {"mark":{"type":"line","color":"#FF0000","strokeWidth":1},"encoding":{"detail":{"field":"p"}}},
 {"mark":{"type":"point","shape":"circle","filled":true,"size":50,"color":"#FF0000","opacity":1}}]},
{"data":{"name":"pts"},"transform":[{"filter":"datum.s=='2011.03'"}],"layer":[
 {"mark":{"type":"line","color":"#0000FF","strokeWidth":1.5},"encoding":{"detail":{"field":"p"}}},
 {"mark":{"type":"point","shape":"triangle-up","filled":true,"size":70,"color":"#0000FF","opacity":1}}]},
{"data":{"name":"pts"},"transform":[{"filter":"datum.s=='2011.09'"}],"layer":[
 {"mark":{"type":"line","color":"#008080","strokeWidth":2.5},"encoding":{"detail":{"field":"p"}}},
 {"mark":{"type":"point","shape":"triangle-down","filled":true,"size":75,"color":"#008080","opacity":1}}]},
{"data":{"name":"pts"},"transform":[{"filter":"datum.s=='2012.03'"}],"layer":[
 {"mark":{"type":"line","color":"#FF00FF","strokeWidth":2.5},"encoding":{"detail":{"field":"p"}}},
 {"mark":{"type":"point","shape":"triangle-left","filled":true,"size":75,"color":"#FF00FF","opacity":1}}]},
{"data":{"name":"pts"},"transform":[{"filter":"datum.s=='2012.09'"}],"layer":[
 {"mark":{"type":"line","color":"#808000","strokeWidth":4},"encoding":{"detail":{"field":"p"}}},
 {"mark":{"type":"point","shape":"triangle-right","filled":true,"size":75,"color":"#808000","opacity":1}}]},
{"data":{"name":"pts"},"transform":[{"filter":"datum.s=='2013.03'"}],"layer":[
 {"mark":{"type":"line","color":"#000080","strokeWidth":5.5},"encoding":{"detail":{"field":"p"}}},
 {"mark":{"type":"point","shape":"diamond","filled":true,"size":65,"color":"#000080","opacity":1}}]},
{"data":{"name":"pts"},"transform":[{"filter":"datum.s=='2013.09'"}],"layer":[
 {"mark":{"type":"line","color":"#800000","strokeWidth":5.5},"encoding":{"detail":{"field":"p"}}},
 {"mark":{"type":"point","shape":"circle","filled":true,"size":50,"color":"#800000","opacity":1}}]},
{"data":{"name":"pts"},"transform":[{"filter":"datum.s=='2014.03'"}],"layer":[
 {"mark":{"type":"line","color":"#FF0080","strokeWidth":5.5},"encoding":{"detail":{"field":"p"}}},
 {"mark":{"type":"point","shape":"circle","filled":true,"size":50,"color":"#FF0080","opacity":1}}]},
{"data":{"name":"pts"},"transform":[{"filter":"datum.s=='2014.09'"}],"layer":[
 {"mark":{"type":"line","color":"#008000","strokeWidth":5},"encoding":{"detail":{"field":"p"}}},
 {"mark":{"type":"point","shape":"M0,-1L0.235,-0.324L0.951,-0.309L0.38,0.124L0.588,0.809L0,0.4L-0.588,0.809L-0.38,0.124L-0.951,-0.309L-0.235,-0.324Z","filled":true,"size":100,"color":"#008000","opacity":1}}]},
{"data":{"name":"pts"},"transform":[{"filter":"datum.s=='2015.03'"}],"layer":[
 {"mark":{"type":"line","color":"#0000A0","strokeWidth":5.5},"encoding":{"detail":{"field":"p"}}},
 {"mark":{"type":"point","shape":"circle","filled":true,"size":45,"color":"#0000A0","opacity":1}}]},
{"data":{"name":"pts"},"transform":[{"filter":"datum.s=='2015.09'"}],"layer":[
 {"mark":{"type":"line","color":"#FF8000","strokeWidth":6},"encoding":{"detail":{"field":"p"}}},
 {"mark":{"type":"point","shape":"square","filled":true,"size":50,"color":"#FF8000","opacity":1}}]},
{"data":{"name":"boxes"},"mark":{"type":"rect","fill":"white","fillOpacity":0,"stroke":"#A8A8A8","strokeWidth":1.5},"encoding":{"x2":{"field":"x2"},"y2":{"field":"y2"}}},
{"data":{"name":"lead"},"mark":{"type":"line","color":"#777777","strokeWidth":1},"encoding":{"detail":{"field":"g"}}},
{"data":{"name":"tc"},"mark":{"type":"text","font":"Liberation Serif, Noto Sans CJK SC","fontSize":15.5,"color":"#555555","align":"center","baseline":"middle"},"encoding":{"text":{"field":"t"}}},
{"data":{"name":"tl"},"mark":{"type":"text","font":"Liberation Serif, Noto Sans CJK SC","fontSize":16,"color":"#444444","align":"left","baseline":"middle"},"encoding":{"text":{"field":"t"}}},
{"data":{"name":"wbox"},"mark":{"type":"rect","fill":"white","strokeWidth":0},"encoding":{"x2":{"field":"x2"},"y2":{"field":"y2"}}},
{"data":{"name":"tk"},"mark":{"type":"text","font":"Liberation Serif, Noto Sans CJK SC","fontSize":19.5,"color":"#333333","align":"center","baseline":"middle"},"encoding":{"text":{"field":"t"}}},
{"data":{"name":"arr"},"mark":{"type":"rule","color":"#2020F0","strokeWidth":2},"encoding":{"y2":{"field":"y2"}}},
{"data":{"name":"ah"},"mark":{"type":"point","shape":"M-0.6,-1L0.6,-1L0,1Z","filled":true,"size":225,"color":"#2020F0","opacity":1}},
{"data":{"name":"pts"},"mark":{"type":"point","filled":true,"opacity":0},
 "encoding":{
  "color":{"field":"s","type":"nominal",
   "scale":{"domain":["2010.03","2010.09","2011.03","2011.09","2012.03","2012.09","2013.03","2013.09","2014.03","2014.09","2015.03","2015.09"],
     "range":["#000000","#FF0000","#0000FF","#008080","#FF00FF","#808000","#000080","#800000","#FF0080","#008000","#0000A0","#FF8000"]},
   "legend":{"title":null,"orient":"none","legendX":253,"legendY":91.7,"symbolSize":3025,"symbolStrokeWidth":0,"symbolOpacity":1,"labelFont":"Liberation Serif","labelFontSize":23.5,"labelColor":"black","labelOffset":6,"rowPadding":0,"clipHeight":30.2,"padding":0}},
  "shape":{"field":"s","type":"nominal",
   "scale":{"domain":["2010.03","2010.09","2011.03","2011.09","2012.03","2012.09","2013.03","2013.09","2014.03","2014.09","2015.03","2015.09"],
     "range":[
      "M-1,-0.027H1V0.027H-1Z M-0.12,-0.12H0.12V0.12H-0.12Z",
      "M-1,-0.027H1V0.027H-1Z M0.12,0A0.12,0.12,0,1,1,-0.12,0A0.12,0.12,0,1,1,0.12,0Z",
      "M-1,-0.027H1V0.027H-1Z M0,-0.15L0.15,0.11L-0.15,0.11Z",
      "M-1,-0.027H1V0.027H-1Z M0,0.15L-0.15,-0.11L0.15,-0.11Z",
      "M-1,-0.027H1V0.027H-1Z M-0.15,0L0.11,-0.15L0.11,0.15Z",
      "M-1,-0.027H1V0.027H-1Z M0.15,0L-0.11,0.15L-0.11,-0.15Z",
      "M-1,-0.027H1V0.027H-1Z M0,-0.15L0.12,0L0,0.15L-0.12,0Z",
      "M-1,-0.027H1V0.027H-1Z M0.12,0A0.12,0.12,0,1,1,-0.12,0A0.12,0.12,0,1,1,0.12,0Z",
      "M-1,-0.027H1V0.027H-1Z M0.12,0A0.12,0.12,0,1,1,-0.12,0A0.12,0.12,0,1,1,0.12,0Z",
      "M-1,-0.027H1V0.027H-1Z M0,-0.16L0.038,-0.052L0.152,-0.049L0.061,0.02L0.094,0.129L0,0.064L-0.094,0.129L-0.061,0.02L-0.152,-0.049L-0.038,-0.052Z",
      "M-1,-0.027H1V0.027H-1Z M0.1,0A0.1,0.1,0,1,1,-0.1,0A0.1,0.1,0,1,1,0.1,0Z",
      "M-1,-0.027H1V0.027H-1Z M-0.12,-0.12H0.12V0.12H-0.12Z"]},
   "legend":{"title":null,"orient":"none","legendX":253,"legendY":91.7,"symbolSize":3025,"symbolStrokeWidth":0,"symbolOpacity":1,"labelFont":"Liberation Serif","labelFontSize":23.5,"labelColor":"black","labelOffset":6,"rowPadding":0,"clipHeight":30.2,"padding":0}}
 }}
]
}
